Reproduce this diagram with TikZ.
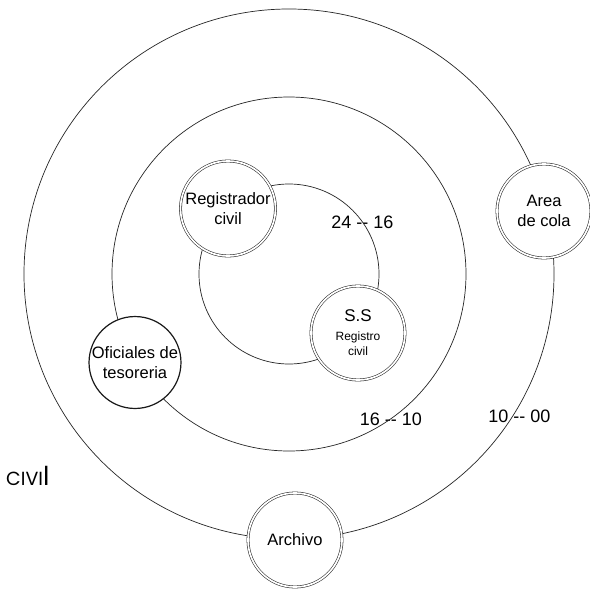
\documentclass[tikz,border=0pt]{standalone}
\usepackage{fontspec}
\setmainfont{Liberation Sans}
\newfontfamily\geofont{Poppins}
\begin{document}
\begin{tikzpicture}[x=1pt,y=-1pt,
  ring/.style={draw=black!85, line width=0.7pt},
  dblnode/.style={circle, draw=black!85, line width=0.55pt, double=white, double distance=1.7pt, fill=white, inner sep=0pt, align=center, minimum size=#1},
  sglnode/.style={circle, draw=black!90, line width=1.2pt, fill=white, inner sep=0pt, align=center, minimum size=#1},
  lbl/.style={inner sep=0pt, font=\fontsize{18}{20}\selectfont},
  ntext/.style={font=\fontsize{16.5}{20}\selectfont}]
\fill[white] (0,0) rectangle (589,597);
\useasboundingbox (0,0) rectangle (589,597);
\coordinate (O) at (289,274);
% labels sitting on the rings (rings pass over them)
\node[lbl] (l1) at (362.5,222.5) {24 -{}- 16};
\node[lbl] (l2) at (391,419.5) {16 -{}- 10};
\node[lbl] (l3) at (519.5,416) {10 -{}- 00};
% rings
\draw[ring] (O) circle[radius=265pt];
\draw[ring] (O) circle[radius=177pt];
\draw[ring] (O) circle[radius=90pt];
% nodes
\node[dblnode=95pt, ntext] (reg) at (228,208.5) {Registrador\\civil};
\node[dblnode=94pt, font=\fontsize{12}{15}\selectfont] (ss) at (358,333) {{\fontsize{17}{19}\selectfont S.S}\\[4pt]Registro\\civil};
\node[dblnode=94pt, ntext] (area) at (544,211) {Area\\de cola};
\node[sglnode=87pt, ntext] (ofi) at (135,362.5) {Oficiales de\\tesoreria};
\node[dblnode=94pt, ntext] (arch) at (295,540) {Archivo};
% side label
\node[anchor=base west, inner sep=0pt] (civ) at (6,485) {\geofont{\fontsize{19}{19}\selectfont CIVI}{\fontsize{26}{26}\selectfont l}};
\end{tikzpicture}
\end{document}
